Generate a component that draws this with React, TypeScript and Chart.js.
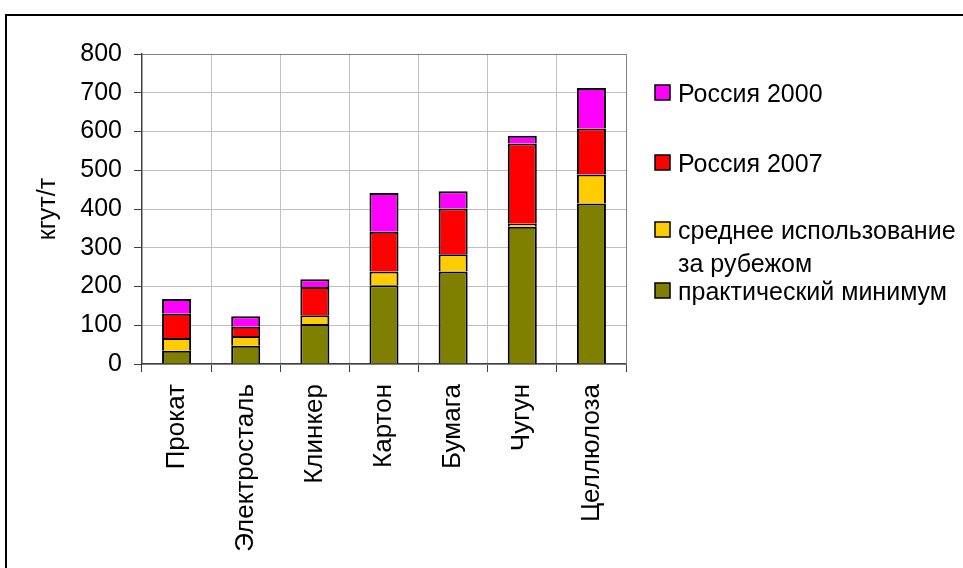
import { useEffect, useRef } from "react";
import { Chart, registerables } from "chart.js";

Chart.register(...registerables);

// Specific fuel consumption, kg of reference fuel per tonne of product
const categories = ["Прокат", "Электросталь", "Клинкер", "Картон", "Бумага", "Чугун", "Целлюлоза"];
const practicalMinimum = [34, 47, 103, 203, 239, 354, 414];
const abroadAverage = [67, 72, 126, 239, 283, 362, 489];
const russia2007 = [130, 96, 199, 341, 401, 569, 608];
const russia2000 = [168, 123, 219, 441, 446, 589, 712];
const yTickValues = [0, 100, 200, 300, 400, 500, 600, 700, 800];

const seriesNames = ["практический минимум", "среднее использование за рубежом", "Россия 2007", "Россия 2000"];
const legendLines = [["Россия 2000"], ["Россия 2007"], ["среднее использование", "за рубежом"], ["практический минимум"]];
const seriesColors = ["#808000", "#FFCC00", "#FF0000", "#FF00FF"];

const FONT = "'Liberation Sans', Arial, sans-serif";
const FONT_SIZE = 25;

// each stacked segment is the gap between one level and the level below it
const diff = (upper: number[], lower: number[]) => upper.map((v, i) => v - lower[i]);

const segments = [
  practicalMinimum,
  diff(abroadAverage, practicalMinimum),
  diff(russia2007, abroadAverage),
  diff(russia2000, russia2007),
];

const decorPlugin = {
  id: "decor",
  afterDraw(chart: any) {
    const { ctx, chartArea: a } = chart;
    ctx.save();
    // plot area outline (top and right)
    ctx.strokeStyle = "#808080";
    ctx.lineWidth = 1;
    ctx.beginPath();
    ctx.moveTo(a.left, a.top + 0.5);
    ctx.lineTo(a.right + 0.5, a.top + 0.5);
    ctx.lineTo(a.right + 0.5, a.bottom);
    ctx.stroke();

    // outer frame
    ctx.strokeStyle = "#000";
    ctx.lineWidth = 2;
    ctx.strokeRect(6, 15, 1200, 1200);

    // legend, top entry is the top of the stack
    const baselines = [102, 172, 239, 300];
    const boxX = a.right + 29;
    const textX = boxX + 23;
    const box = 15;
    ctx.font = `${FONT_SIZE}px ${FONT}`;
    ctx.textAlign = "left";
    ctx.textBaseline = "alphabetic";
    legendLines.forEach((lines, i) => {
      const color = seriesColors[seriesColors.length - 1 - i];
      const by = baselines[i];
      ctx.fillStyle = color;
      ctx.fillRect(boxX, by - 17, box, box);
      ctx.strokeStyle = "#000";
      ctx.lineWidth = 1.5;
      ctx.strokeRect(boxX, by - 17, box, box);
      ctx.fillStyle = "#000";
      lines.forEach((line, j) => ctx.fillText(line, textX, by + j * 33));
    });
    ctx.restore();
  },
};

export default function App() {
  const canvasRef = useRef<HTMLCanvasElement | null>(null);

  useEffect(() => {
    if (!canvasRef.current) return;
    const chart = new Chart(canvasRef.current, {
      type: "bar",
      data: {
        labels: categories,
        datasets: segments.map((values, i) => ({
          label: seriesNames[i],
          data: values,
          backgroundColor: seriesColors[i],
          borderColor: "#000",
          borderWidth: 2,
          borderSkipped: "start",
          barPercentage: 0.42,
          categoryPercentage: 1,
        })),
      },
      options: {
        responsive: false,
        animation: false,
        devicePixelRatio: 1,
        layout: { padding: { top: 54, right: 337, left: 0, bottom: 0 } },
        plugins: {
          legend: { display: false },
          tooltip: { enabled: false },
        },
        scales: {
          x: {
            stacked: true,
            offset: true,
            grid: { offset: true, color: "#c0c0c0", tickColor: "#404040", tickLength: 8 },
            border: { color: "#404040", width: 1.5 },
            ticks: {
              minRotation: 90,
              maxRotation: 90,
              padding: 12,
              color: "#000",
              font: { family: FONT, size: 26 },
            },
            afterFit: (scale: any) => {
              scale.height = 204;
            },
          },
          y: {
            stacked: true,
            min: 0,
            max: 800,
            afterBuildTicks: (scale: any) => {
              scale.ticks = yTickValues.map((v) => ({ value: v }));
            },
            grid: { color: "#c0c0c0", tickColor: "#404040", tickLength: 8 },
            border: { color: "#404040", width: 1.5 },
            ticks: {
              padding: 12,
              color: "#000",
              font: { family: FONT, size: FONT_SIZE },
            },
            title: {
              display: true,
              text: "кгут/т",
              color: "#000",
              font: { family: FONT, size: FONT_SIZE },
              padding: { top: 33, bottom: 0 },
            },
            afterFit: (scale: any) => {
              scale.width = 142;
            },
          },
        },
      },
      plugins: [decorPlugin],
    });
    return () => chart.destroy();
  }, []);

  return (
    <div style={{ position: "fixed", left: 0, top: 0, width: 963, height: 568, background: "#fff", overflow: "hidden" }}>
      <canvas ref={canvasRef} width={963} height={568} style={{ display: "block" }} />
    </div>
  );
}
